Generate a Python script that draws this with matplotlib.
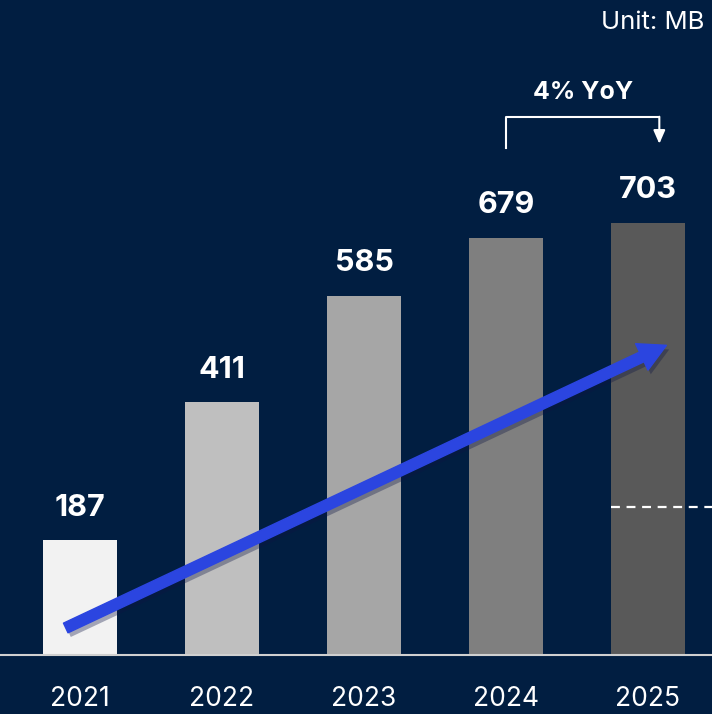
import matplotlib.pyplot as plt
import matplotlib.patheffects as pe

# data
years = ['2021', '2022', '2023', '2024', '2025']
sizes = [187, 411, 585, 679, 703]
bar_colors = ['#f2f2f2', '#bfbfbf', '#a6a6a6', '#7f7f7f', '#595959']
yoy_label = '4% YoY'
unit_label = 'Unit: MB'

bg = '#011e41'
plt.rcParams['font.family'] = ['Inter', 'DejaVu Sans']

fig = plt.figure(figsize=(7.12, 7.14), dpi=100, facecolor=bg)
ax = fig.add_axes([0, 0, 1, 1])
ax.set_facecolor(bg)

x = range(len(years))
ax.bar(x, sizes, width=0.52, color=bar_colors, zorder=2)

# value labels and year labels
for i, v in enumerate(sizes):
    ax.text(i, v + 53, str(v), ha='center', va='center', color='white',
            fontsize=22, fontweight='bold')
    ax.text(i, -72, years[i], ha='center', va='center', color='white',
            fontsize=19)

# baseline
ax.axhline(0, color='#d0d0d0', lw=1.5, zorder=3)

# dashed line on the last bar
ax.plot([3.74, 4.5], [241, 241], color='white', lw=1.6, ls=(0, (4, 3)), zorder=3)

# growth arrow
ax.annotate('', xy=(4.13, 504), xytext=(-0.1, 44),
            arrowprops=dict(arrowstyle='simple,head_length=1.4,head_width=1.5,tail_width=0.55',
                            color='#2b45e0', mutation_scale=14, shrinkA=0, shrinkB=0,
                            path_effects=[pe.SimplePatchShadow(offset=(2, -3), alpha=0.35),
                                          pe.Normal()]),
            zorder=4)

# YoY bracket
ax.plot([3.0, 3.0, 4.08], [825, 876, 876], color='white', lw=1.5, zorder=3)
ax.annotate('', xy=(4.08, 832), xytext=(4.08, 876),
            arrowprops=dict(arrowstyle='-|>,head_length=0.8,head_width=0.35',
                            color='white', lw=1.5, shrinkA=0, shrinkB=0))
ax.text(3.54, 915, yoy_label, ha='center', va='center', color='white',
        fontsize=18, fontweight='bold')

fig.text(0.99, 0.969, unit_label, ha='right', va='center', color='white', fontsize=18.5)

ax.set_xlim(-0.563, 4.451)
ax.set_ylim(-96, 1066)
ax.axis('off')

fig.savefig('out.png', dpi=100, facecolor=bg)
